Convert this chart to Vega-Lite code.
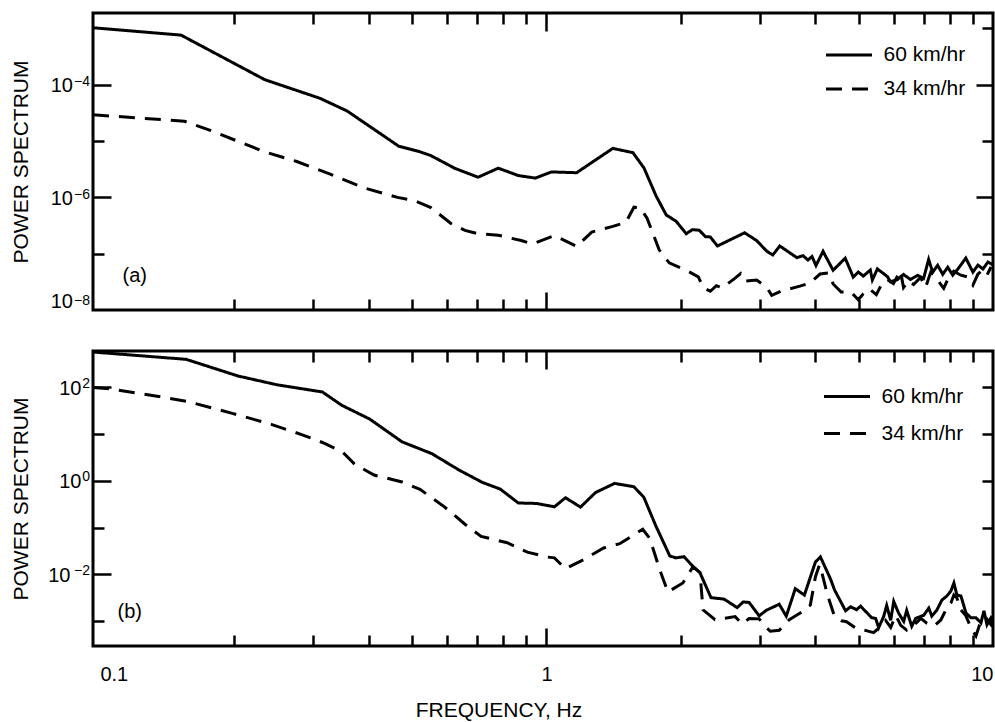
{
  "$schema": "https://vega.github.io/schema/vega-lite/v6.json",
  "padding": {"left": 9, "top": 10, "right": 0, "bottom": 0},
  "background": "white",
  "spacing": 34,
  "datasets": {
    "a": [
      {"f":0.0965,"p":1.03e-3,"s":"60 km/hr"},{"f":0.152,"p":7.6e-4,"s":"60 km/hr"},{"f":0.234,"p":1.23e-4,"s":"60 km/hr"},{"f":0.311,"p":5.75e-5,"s":"60 km/hr"},{"f":0.358,"p":3.41e-5,"s":"60 km/hr"},{"f":0.467,"p":8.09e-6,"s":"60 km/hr"},{"f":0.520,"p":6.49e-6,"s":"60 km/hr"},{"f":0.551,"p":5.52e-6,"s":"60 km/hr"},{"f":0.624,"p":3.27e-6,"s":"60 km/hr"},{"f":0.703,"p":2.28e-6,"s":"60 km/hr"},{"f":0.780,"p":3.30e-6,"s":"60 km/hr"},{"f":0.865,"p":2.44e-6,"s":"60 km/hr"},{"f":0.944,"p":2.20e-6,"s":"60 km/hr"},{"f":1.026,"p":2.83e-6,"s":"60 km/hr"},{"f":1.168,"p":2.74e-6,"s":"60 km/hr"},{"f":1.408,"p":7.41e-6,"s":"60 km/hr"},{"f":1.562,"p":6.22e-6,"s":"60 km/hr"},{"f":1.654,"p":3.31e-6,"s":"60 km/hr"},{"f":1.760,"p":1.06e-6,"s":"60 km/hr"},{"f":1.854,"p":4.89e-7,"s":"60 km/hr"},{"f":1.952,"p":3.76e-7,"s":"60 km/hr"},{"f":2.056,"p":2.26e-7,"s":"60 km/hr"},{"f":2.122,"p":2.67e-7,"s":"60 km/hr"},{"f":2.199,"p":2.61e-7,"s":"60 km/hr"},{"f":2.269,"p":2.01e-7,"s":"60 km/hr"},{"f":2.328,"p":1.98e-7,"s":"60 km/hr"},{"f":2.415,"p":1.37e-7,"s":"60 km/hr"},{"f":2.778,"p":2.35e-7,"s":"60 km/hr"},{"f":2.956,"p":1.71e-7,"s":"60 km/hr"},{"f":3.113,"p":1.11e-7,"s":"60 km/hr"},{"f":3.212,"p":9.49e-8,"s":"60 km/hr"},{"f":3.331,"p":1.37e-7,"s":"60 km/hr"},{"f":3.638,"p":8.49e-8,"s":"60 km/hr"},{"f":3.753,"p":9.25e-8,"s":"60 km/hr"},{"f":3.851,"p":7.72e-8,"s":"60 km/hr"},{"f":3.932,"p":8.91e-8,"s":"60 km/hr"},{"f":4.014,"p":6.17e-8,"s":"60 km/hr"},{"f":4.163,"p":1.10e-7,"s":"60 km/hr"},{"f":4.385,"p":5.07e-8,"s":"60 km/hr"},{"f":4.667,"p":8.32e-8,"s":"60 km/hr"},{"f":4.864,"p":3.84e-8,"s":"60 km/hr"},{"f":4.992,"p":4.71e-8,"s":"60 km/hr"},{"f":5.123,"p":4.00e-8,"s":"60 km/hr"},{"f":5.312,"p":5.13e-8,"s":"60 km/hr"},{"f":5.368,"p":3.41e-8,"s":"60 km/hr"},{"f":5.509,"p":5.37e-8,"s":"60 km/hr"},{"f":5.801,"p":3.92e-8,"s":"60 km/hr"},{"f":5.892,"p":3.19e-8,"s":"60 km/hr"},{"f":6.110,"p":3.47e-8,"s":"60 km/hr"},{"f":6.304,"p":4.27e-8,"s":"60 km/hr"},{"f":6.537,"p":3.48e-8,"s":"60 km/hr"},{"f":6.778,"p":4.12e-8,"s":"60 km/hr"},{"f":6.992,"p":3.64e-8,"s":"60 km/hr"},{"f":7.176,"p":7.92e-8,"s":"60 km/hr"},{"f":7.326,"p":4.68e-8,"s":"60 km/hr"},{"f":7.518,"p":6.22e-8,"s":"60 km/hr"},{"f":7.716,"p":4.30e-8,"s":"60 km/hr"},{"f":7.918,"p":5.75e-8,"s":"60 km/hr"},{"f":8.126,"p":4.15e-8,"s":"60 km/hr"},{"f":8.340,"p":5.31e-8,"s":"60 km/hr"},{"f":8.693,"p":8.35e-8,"s":"60 km/hr"},{"f":9.016,"p":4.71e-8,"s":"60 km/hr"},{"f":9.253,"p":6.27e-8,"s":"60 km/hr"},{"f":9.495,"p":5.35e-8,"s":"60 km/hr"},{"f":9.744,"p":7.12e-8,"s":"60 km/hr"},{"f":10.0,"p":6.29e-8,"s":"60 km/hr"},
      {"f":0.0965,"p":2.93e-5,"s":"34 km/hr"},{"f":0.1546,"p":2.25e-5,"s":"34 km/hr"},{"f":0.176,"p":1.57e-5,"s":"34 km/hr"},{"f":0.233,"p":6.50e-6,"s":"34 km/hr"},{"f":0.276,"p":4.34e-6,"s":"34 km/hr"},{"f":0.328,"p":2.58e-6,"s":"34 km/hr"},{"f":0.391,"p":1.47e-6,"s":"34 km/hr"},{"f":0.464,"p":1.00e-6,"s":"34 km/hr"},{"f":0.507,"p":8.74e-7,"s":"34 km/hr"},{"f":0.551,"p":6.59e-7,"s":"34 km/hr"},{"f":0.611,"p":3.44e-7,"s":"34 km/hr"},{"f":0.657,"p":2.59e-7,"s":"34 km/hr"},{"f":0.696,"p":2.30e-7,"s":"34 km/hr"},{"f":0.780,"p":2.13e-7,"s":"34 km/hr"},{"f":0.878,"p":1.71e-7,"s":"34 km/hr"},{"f":0.930,"p":1.49e-7,"s":"34 km/hr"},{"f":1.042,"p":2.09e-7,"s":"34 km/hr"},{"f":1.168,"p":1.35e-7,"s":"34 km/hr"},{"f":1.263,"p":2.42e-7,"s":"34 km/hr"},{"f":1.408,"p":3.05e-7,"s":"34 km/hr"},{"f":1.506,"p":3.61e-7,"s":"34 km/hr"},{"f":1.570,"p":6.70e-7,"s":"34 km/hr"},{"f":1.620,"p":6.56e-7,"s":"34 km/hr"},{"f":1.680,"p":4.28e-7,"s":"34 km/hr"},{"f":1.788,"p":1.17e-7,"s":"34 km/hr"},{"f":1.883,"p":6.89e-8,"s":"34 km/hr"},{"f":2.088,"p":4.75e-8,"s":"34 km/hr"},{"f":2.188,"p":3.87e-8,"s":"34 km/hr"},{"f":2.246,"p":2.48e-8,"s":"34 km/hr"},{"f":2.328,"p":2.15e-8,"s":"34 km/hr"},{"f":2.402,"p":2.70e-8,"s":"34 km/hr"},{"f":2.478,"p":2.49e-8,"s":"34 km/hr"},{"f":2.637,"p":3.61e-8,"s":"34 km/hr"},{"f":2.721,"p":4.43e-8,"s":"34 km/hr"},{"f":2.778,"p":3.26e-8,"s":"34 km/hr"},{"f":2.956,"p":3.41e-8,"s":"34 km/hr"},{"f":3.113,"p":2.52e-8,"s":"34 km/hr"},{"f":3.195,"p":1.82e-8,"s":"34 km/hr"},{"f":3.348,"p":2.15e-8,"s":"34 km/hr"},{"f":3.472,"p":2.33e-8,"s":"34 km/hr"},{"f":3.694,"p":2.65e-8,"s":"34 km/hr"},{"f":3.891,"p":3.01e-8,"s":"34 km/hr"},{"f":4.099,"p":4.35e-8,"s":"34 km/hr"},{"f":4.272,"p":4.54e-8,"s":"34 km/hr"},{"f":4.385,"p":2.90e-8,"s":"34 km/hr"},{"f":4.570,"p":2.09e-8,"s":"34 km/hr"},{"f":4.813,"p":2.06e-8,"s":"34 km/hr"},{"f":4.992,"p":1.52e-8,"s":"34 km/hr"},{"f":5.123,"p":1.94e-8,"s":"34 km/hr"},{"f":5.284,"p":2.38e-8,"s":"34 km/hr"},{"f":5.479,"p":1.87e-8,"s":"34 km/hr"},{"f":5.623,"p":2.81e-8,"s":"34 km/hr"},{"f":5.801,"p":3.47e-8,"s":"34 km/hr"},{"f":5.984,"p":2.94e-8,"s":"34 km/hr"},{"f":6.205,"p":5.01e-8,"s":"34 km/hr"},{"f":6.304,"p":2.51e-8,"s":"34 km/hr"},{"f":6.469,"p":3.34e-8,"s":"34 km/hr"},{"f":6.639,"p":2.84e-8,"s":"34 km/hr"},{"f":6.883,"p":3.79e-8,"s":"34 km/hr"},{"f":7.064,"p":2.52e-8,"s":"34 km/hr"},{"f":7.250,"p":4.66e-8,"s":"34 km/hr"},{"f":7.518,"p":3.37e-8,"s":"34 km/hr"},{"f":7.756,"p":2.43e-8,"s":"34 km/hr"},{"f":7.960,"p":3.82e-8,"s":"34 km/hr"},{"f":8.168,"p":4.89e-8,"s":"34 km/hr"},{"f":8.472,"p":4.15e-8,"s":"34 km/hr"},{"f":8.784,"p":3.84e-8,"s":"34 km/hr"},{"f":9.016,"p":2.77e-8,"s":"34 km/hr"},{"f":9.253,"p":4.35e-8,"s":"34 km/hr"},{"f":9.495,"p":5.13e-8,"s":"34 km/hr"},{"f":9.694,"p":4.18e-8,"s":"34 km/hr"},{"f":9.897,"p":5.81e-8,"s":"34 km/hr"}
    ],
    "b": [
      {"f":0.0965,"p":560,"s":"60 km/hr"},{"f":0.156,"p":391,"s":"60 km/hr"},{"f":0.204,"p":172,"s":"60 km/hr"},{"f":0.249,"p":112,"s":"60 km/hr"},{"f":0.315,"p":78.5,"s":"60 km/hr"},{"f":0.348,"p":40.8,"s":"60 km/hr"},{"f":0.402,"p":20.7,"s":"60 km/hr"},{"f":0.475,"p":6.75,"s":"60 km/hr"},{"f":0.554,"p":3.78,"s":"60 km/hr"},{"f":0.637,"p":1.69,"s":"60 km/hr"},{"f":0.718,"p":0.924,"s":"60 km/hr"},{"f":0.788,"p":0.662,"s":"60 km/hr"},{"f":0.865,"p":0.334,"s":"60 km/hr"},{"f":0.950,"p":0.327,"s":"60 km/hr"},{"f":1.042,"p":0.277,"s":"60 km/hr"},{"f":1.103,"p":0.433,"s":"60 km/hr"},{"f":1.192,"p":0.273,"s":"60 km/hr"},{"f":1.288,"p":0.560,"s":"60 km/hr"},{"f":1.421,"p":0.875,"s":"60 km/hr"},{"f":1.569,"p":0.745,"s":"60 km/hr"},{"f":1.652,"p":0.444,"s":"60 km/hr"},{"f":1.758,"p":0.108,"s":"60 km/hr"},{"f":1.889,"p":0.0247,"s":"60 km/hr"},{"f":1.950,"p":0.0225,"s":"60 km/hr"},{"f":2.032,"p":0.0238,"s":"60 km/hr"},{"f":2.129,"p":0.0148,"s":"60 km/hr"},{"f":2.207,"p":0.0108,"s":"60 km/hr"},{"f":2.336,"p":3.18e-3,"s":"60 km/hr"},{"f":2.499,"p":2.96e-3,"s":"60 km/hr"},{"f":2.673,"p":1.95e-3,"s":"60 km/hr"},{"f":2.757,"p":2.57e-3,"s":"60 km/hr"},{"f":2.844,"p":2.51e-3,"s":"60 km/hr"},{"f":2.995,"p":1.30e-3,"s":"60 km/hr"},{"f":3.105,"p":1.70e-3,"s":"60 km/hr"},{"f":3.321,"p":2.30e-3,"s":"60 km/hr"},{"f":3.444,"p":1.28e-3,"s":"60 km/hr"},{"f":3.608,"p":4.94e-3,"s":"60 km/hr"},{"f":3.781,"p":3.61e-3,"s":"60 km/hr"},{"f":4.002,"p":0.0183,"s":"60 km/hr"},{"f":4.107,"p":0.0236,"s":"60 km/hr"},{"f":4.325,"p":8.02e-3,"s":"60 km/hr"},{"f":4.416,"p":4.67e-3,"s":"60 km/hr"},{"f":4.675,"p":1.67e-3,"s":"60 km/hr"},{"f":4.797,"p":2.03e-3,"s":"60 km/hr"},{"f":4.949,"p":1.76e-3,"s":"60 km/hr"},{"f":5.052,"p":2.09e-3,"s":"60 km/hr"},{"f":5.348,"p":1.19e-3,"s":"60 km/hr"},{"f":5.460,"p":1.14e-3,"s":"60 km/hr"},{"f":5.546,"p":7.30e-4,"s":"60 km/hr"},{"f":5.691,"p":1.26e-3,"s":"60 km/hr"},{"f":5.780,"p":2.16e-3,"s":"60 km/hr"},{"f":5.901,"p":1.04e-3,"s":"60 km/hr"},{"f":5.993,"p":2.64e-3,"s":"60 km/hr"},{"f":6.150,"p":1.47e-3,"s":"60 km/hr"},{"f":6.310,"p":9.91e-4,"s":"60 km/hr"},{"f":6.408,"p":1.70e-3,"s":"60 km/hr"},{"f":6.577,"p":7.78e-4,"s":"60 km/hr"},{"f":6.714,"p":1.15e-3,"s":"60 km/hr"},{"f":6.998,"p":1.34e-3,"s":"60 km/hr"},{"f":7.182,"p":1.90e-3,"s":"60 km/hr"},{"f":7.294,"p":1.28e-3,"s":"60 km/hr"},{"f":7.485,"p":1.72e-3,"s":"60 km/hr"},{"f":7.682,"p":2.82e-3,"s":"60 km/hr"},{"f":7.883,"p":3.44e-3,"s":"60 km/hr"},{"f":8.048,"p":4.40e-3,"s":"60 km/hr"},{"f":8.174,"p":6.55e-3,"s":"60 km/hr"},{"f":8.302,"p":3.63e-3,"s":"60 km/hr"},{"f":8.476,"p":3.45e-3,"s":"60 km/hr"},{"f":8.698,"p":1.50e-3,"s":"60 km/hr"},{"f":8.925,"p":1.18e-3,"s":"60 km/hr"},{"f":9.158,"p":1.18e-3,"s":"60 km/hr"},{"f":9.397,"p":9.25e-4,"s":"60 km/hr"},{"f":9.545,"p":1.67e-3,"s":"60 km/hr"},{"f":9.694,"p":8.38e-4,"s":"60 km/hr"},{"f":9.897,"p":1.18e-3,"s":"60 km/hr"},{"f":10.0,"p":1.03e-3,"s":"60 km/hr"},
      {"f":0.0965,"p":97.5,"s":"34 km/hr"},{"f":0.1059,"p":91,"s":"34 km/hr"},{"f":0.130,"p":67,"s":"34 km/hr"},{"f":0.157,"p":49.4,"s":"34 km/hr"},{"f":0.197,"p":27.8,"s":"34 km/hr"},{"f":0.242,"p":16.0,"s":"34 km/hr"},{"f":0.283,"p":9.66,"s":"34 km/hr"},{"f":0.315,"p":6.55,"s":"34 km/hr"},{"f":0.350,"p":4.05,"s":"34 km/hr"},{"f":0.372,"p":2.25,"s":"34 km/hr"},{"f":0.411,"p":1.32,"s":"34 km/hr"},{"f":0.475,"p":0.942,"s":"34 km/hr"},{"f":0.521,"p":0.654,"s":"34 km/hr"},{"f":0.590,"p":0.280,"s":"34 km/hr"},{"f":0.658,"p":0.116,"s":"34 km/hr"},{"f":0.714,"p":0.0648,"s":"34 km/hr"},{"f":0.817,"p":0.0473,"s":"34 km/hr"},{"f":0.906,"p":0.0298,"s":"34 km/hr"},{"f":1.005,"p":0.0234,"s":"34 km/hr"},{"f":1.042,"p":0.0225,"s":"34 km/hr"},{"f":1.103,"p":0.0132,"s":"34 km/hr"},{"f":1.211,"p":0.0206,"s":"34 km/hr"},{"f":1.343,"p":0.0366,"s":"34 km/hr"},{"f":1.459,"p":0.0451,"s":"34 km/hr"},{"f":1.643,"p":0.0920,"s":"34 km/hr"},{"f":1.704,"p":0.0580,"s":"34 km/hr"},{"f":1.794,"p":0.0124,"s":"34 km/hr"},{"f":1.870,"p":4.21e-3,"s":"34 km/hr"},{"f":2.021,"p":6.55e-3,"s":"34 km/hr"},{"f":2.129,"p":0.0145,"s":"34 km/hr"},{"f":2.207,"p":0.0110,"s":"34 km/hr"},{"f":2.242,"p":1.75e-3,"s":"34 km/hr"},{"f":2.385,"p":1.08e-3,"s":"34 km/hr"},{"f":2.512,"p":1.16e-3,"s":"34 km/hr"},{"f":2.646,"p":1.25e-3,"s":"34 km/hr"},{"f":2.743,"p":8.67e-4,"s":"34 km/hr"},{"f":2.844,"p":1.14e-3,"s":"34 km/hr"},{"f":2.995,"p":1.12e-3,"s":"34 km/hr"},{"f":3.090,"p":7.74e-4,"s":"34 km/hr"},{"f":3.171,"p":6.08e-4,"s":"34 km/hr"},{"f":3.321,"p":6.39e-4,"s":"34 km/hr"},{"f":3.498,"p":1.08e-3,"s":"34 km/hr"},{"f":3.761,"p":1.64e-3,"s":"34 km/hr"},{"f":3.899,"p":2.21e-3,"s":"34 km/hr"},{"f":4.002,"p":8.79e-3,"s":"34 km/hr"},{"f":4.086,"p":0.0159,"s":"34 km/hr"},{"f":4.128,"p":0.0118,"s":"34 km/hr"},{"f":4.258,"p":3.65e-3,"s":"34 km/hr"},{"f":4.416,"p":1.27e-3,"s":"34 km/hr"},{"f":4.578,"p":1.02e-3,"s":"34 km/hr"},{"f":4.698,"p":9.71e-4,"s":"34 km/hr"},{"f":4.949,"p":6.91e-4,"s":"34 km/hr"},{"f":5.105,"p":6.58e-4,"s":"34 km/hr"},{"f":5.403,"p":5.70e-4,"s":"34 km/hr"},{"f":5.602,"p":7.67e-4,"s":"34 km/hr"},{"f":5.749,"p":1.04e-3,"s":"34 km/hr"},{"f":5.901,"p":7.33e-4,"s":"34 km/hr"},{"f":6.054,"p":1.33e-3,"s":"34 km/hr"},{"f":6.215,"p":8.13e-4,"s":"34 km/hr"},{"f":6.408,"p":6.45e-4,"s":"34 km/hr"},{"f":6.645,"p":8.17e-4,"s":"34 km/hr"},{"f":6.890,"p":1.15e-3,"s":"34 km/hr"},{"f":7.107,"p":9.06e-4,"s":"34 km/hr"},{"f":7.370,"p":7.82e-4,"s":"34 km/hr"},{"f":7.641,"p":1.06e-3,"s":"34 km/hr"},{"f":7.883,"p":1.91e-3,"s":"34 km/hr"},{"f":8.048,"p":2.44e-3,"s":"34 km/hr"},{"f":8.174,"p":3.63e-3,"s":"34 km/hr"},{"f":8.302,"p":3.13e-3,"s":"34 km/hr"},{"f":8.476,"p":1.73e-3,"s":"34 km/hr"},{"f":8.698,"p":1.30e-3,"s":"34 km/hr"},{"f":8.925,"p":7.19e-4,"s":"34 km/hr"},{"f":9.158,"p":4.85e-4,"s":"34 km/hr"},{"f":9.397,"p":1.02e-3,"s":"34 km/hr"},{"f":9.645,"p":1.18e-3,"s":"34 km/hr"},{"f":9.897,"p":8.38e-4,"s":"34 km/hr"},{"f":10.0,"p":1.07e-3,"s":"34 km/hr"}
    ]
  },
  "vconcat": [
    {
      "width": 900,
      "height": 297,
      "data": {"name": "a"},
      "layer": [
        {
          "mark": {"type": "line", "color": "black", "strokeWidth": 3, "strokeCap": "butt", "clip": true},
          "encoding": {
            "x": {"field": "f", "type": "quantitative", "scale": {"type": "log", "domain": [0.0965, 10], "nice": false}, "axis": null},
            "y": {"field": "p", "type": "quantitative", "scale": {"type": "log", "domain": [1e-8, 1.88e-3], "nice": false},
                  "axis": {"orient": "left", "values": [1e-8, 1e-6, 1e-4], "ticks": false, "labelPadding": 20.5, "labelFlush": 6, "labelOffset": 1,
                           "labelExpr": "'10'",
                           "title": "POWER SPECTRUM", "titleX": -71.5, "titleY": 148.5, "titleAngle": 270, "titleAlign": "center", "titleBaseline": "middle"}},
            "strokeDash": {"field": "s", "type": "nominal",
                           "scale": {"domain": ["60 km/hr", "34 km/hr"], "range": [[1, 0], [16, 10]]},
                           "legend": {"orient": "none", "legendX": 743, "legendY": 29, "title": null, "rowPadding": 11}}
          }
        },
        {
          "mark": {"type": "point", "opacity": 0},
          "encoding": {
            "x": {"field": "f", "type": "quantitative", "axis": {"orient": "bottom", "values": [0.2,0.3,0.4,0.5,0.6,0.7,0.8,0.9,2,3,4,5,6,7,8,9], "tickSize": -11, "labels": false, "title": null}},
            "y": {"field": "p", "type": "quantitative", "axis": {"orient": "left", "values": [1e-7, 1e-5], "tickSize": -11, "labels": false, "title": null}}
          }
        },
        {
          "mark": {"type": "point", "opacity": 0},
          "encoding": {
            "x": {"field": "f", "type": "quantitative", "axis": {"orient": "bottom", "values": [1], "tickSize": -18, "labels": false, "title": null}},
            "y": {"field": "p", "type": "quantitative", "axis": {"orient": "left", "values": [1e-6, 1e-4], "tickSize": -18, "labels": false, "title": null}}
          }
        },
        {
          "mark": {"type": "point", "opacity": 0},
          "encoding": {
            "x": {"field": "f", "type": "quantitative", "axis": {"orient": "top", "values": [0.2,0.3,0.4,0.5,0.6,0.7,0.8,0.9,2,3,4,5,6,7,8,9], "tickSize": -11, "labels": false, "title": null}},
            "y": {"field": "p", "type": "quantitative", "axis": {"orient": "right", "values": [1e-7, 1e-5, 1e-3], "tickSize": -11, "labels": false, "title": null}}
          }
        },
        {
          "mark": {"type": "point", "opacity": 0},
          "encoding": {
            "x": {"field": "f", "type": "quantitative", "axis": {"orient": "top", "values": [1], "tickSize": -18, "labels": false, "title": null}},
            "y": {"field": "p", "type": "quantitative", "axis": {"orient": "right", "values": [1e-6, 1e-4], "tickSize": -17, "labels": false, "title": null}}
          }
        },
        {
          "mark": {"type": "point", "opacity": 0},
          "encoding": {
            "x": {"field": "f", "type": "quantitative", "axis": null},
            "y": {"field": "p", "type": "quantitative", "axis": {"orient": "left", "values": [1e-8, 1e-6, 1e-4], "ticks": false, "labelPadding": 3.5, "labelFlush": 6, "labelOffset": -3, "labelFontSize": 14,
                  "labelExpr": "datum.value < 1e-7 ? '−8' : datum.value < 1e-5 ? '−6' : '−4'", "title": null}}
          }
        },
        {
          "data": {"values": [{"t": "(a)"}]},
          "mark": {"type": "text", "align": "left", "baseline": "middle", "fontSize": 20, "font": "Liberation Sans", "color": "black"},
          "encoding": {
            "x": {"datum": 0.1124, "type": "quantitative", "axis": null},
            "y": {"datum": 3.94e-8, "type": "quantitative", "axis": null},
            "text": {"field": "t"}
          }
        }
      ],
      "resolve": {"axis": {"x": "independent", "y": "independent"}}
    },
    {
      "width": 900,
      "height": 295,
      "data": {"name": "b"},
      "layer": [
        {
          "mark": {"type": "line", "color": "black", "strokeWidth": 3, "strokeCap": "butt", "clip": true},
          "encoding": {
            "x": {"field": "f", "type": "quantitative", "scale": {"type": "log", "domain": [0.0965, 10], "nice": false},
                  "axis": {"orient": "bottom", "values": [0.1, 1, 10], "ticks": false, "labelPadding": 18, "labelFlush": 12,
                           "labelExpr": "datum.value < 0.5 ? '0.1' : datum.value < 5 ? '1' : '10'",
                           "title": "FREQUENCY, Hz", "titleX": 405.5, "titleY": 70, "titleAlign": "center", "titleBaseline": "alphabetic"}},
            "y": {"field": "p", "type": "quantitative", "scale": {"type": "log", "domain": [2.95e-4, 589], "nice": false},
                  "axis": {"orient": "left", "values": [1, 100], "ticks": false, "labelPadding": 12, "labelOffset": 1,
                           "labelExpr": "'10'",
                           "title": "POWER SPECTRUM", "titleX": -71.5, "titleY": 147.5, "titleAngle": 270, "titleAlign": "center", "titleBaseline": "middle"}},
            "strokeDash": {"field": "s", "type": "nominal",
                           "scale": {"domain": ["60 km/hr", "34 km/hr"], "range": [[1, 0], [16, 10]]},
                           "legend": {"orient": "none", "legendX": 741, "legendY": 32.5, "title": null, "rowPadding": 14}}
          }
        },
        {
          "mark": {"type": "point", "opacity": 0},
          "encoding": {
            "x": {"field": "f", "type": "quantitative", "axis": {"orient": "bottom", "values": [0.2,0.3,0.4,0.5,0.6,0.7,0.8,0.9,2,3,4,5,6,7,8,9], "tickSize": -11, "labels": false, "title": null}},
            "y": {"field": "p", "type": "quantitative", "axis": {"orient": "left", "values": [0.001, 0.1, 10], "tickSize": -11, "labels": false, "title": null}}
          }
        },
        {
          "mark": {"type": "point", "opacity": 0},
          "encoding": {
            "x": {"field": "f", "type": "quantitative", "axis": {"orient": "bottom", "values": [1], "tickSize": -18, "labels": false, "title": null}},
            "y": {"field": "p", "type": "quantitative", "axis": {"orient": "left", "values": [0.01, 1, 100], "tickSize": -18, "labels": false, "title": null}}
          }
        },
        {
          "mark": {"type": "point", "opacity": 0},
          "encoding": {
            "x": {"field": "f", "type": "quantitative", "axis": {"orient": "top", "values": [0.2,0.3,0.4,0.5,0.6,0.7,0.8,0.9,2,3,4,5,6,7,8,9], "tickSize": -11, "labels": false, "title": null}},
            "y": {"field": "p", "type": "quantitative", "axis": {"orient": "right", "values": [0.01, 0.1, 1, 10, 100], "tickSize": -11, "labels": false, "title": null}}
          }
        },
        {
          "mark": {"type": "point", "opacity": 0},
          "encoding": {
            "x": {"field": "f", "type": "quantitative", "axis": {"orient": "top", "values": [1], "tickSize": -18, "labels": false, "title": null}},
            "y": {"field": "p", "type": "quantitative", "axis": {"orient": "left", "values": [0.01], "ticks": false, "labelPadding": 23, "labelOffset": 1, "labelExpr": "'10'", "title": null}}
          }
        },
        {
          "mark": {"type": "point", "opacity": 0},
          "encoding": {
            "x": {"field": "f", "type": "quantitative", "axis": null},
            "y": {"field": "p", "type": "quantitative", "axis": {"orient": "left", "values": [0.01, 1, 100], "ticks": false, "labelPadding": 3.5, "labelOffset": -4, "labelFontSize": 14,
                  "labelExpr": "datum.value < 0.1 ? '−2' : datum.value < 10 ? '0' : '2'", "title": null}}
          }
        },
        {
          "data": {"values": [{"t": "(b)"}]},
          "mark": {"type": "text", "align": "left", "baseline": "middle", "fontSize": 20, "font": "Liberation Sans", "color": "black"},
          "encoding": {
            "x": {"datum": 0.1095, "type": "quantitative", "axis": null},
            "y": {"datum": 1.57e-3, "type": "quantitative", "axis": null},
            "text": {"field": "t"}
          }
        }
      ],
      "resolve": {"axis": {"x": "independent", "y": "independent"}}
    }
  ],
  "resolve": {
    "scale": {"x": "independent", "y": "independent", "strokeDash": "independent"},
    "legend": {"strokeDash": "independent"}
  },
  "config": {
    "view": {"stroke": "black", "strokeWidth": 3},
    "axis": {"domain": false, "grid": false, "tickColor": "black", "tickWidth": 2.5,
             "labelFont": "Liberation Sans", "labelFontSize": 20, "labelColor": "black",
             "titleFont": "Liberation Sans", "titleFontSize": 21, "titleFontWeight": "normal", "titleColor": "black"},
    "legend": {"symbolType": "M-2,0H2", "symbolSize": 529, "symbolStrokeWidth": 3, "symbolStrokeColor": "black", "symbolFillColor": "transparent",
               "labelFont": "Liberation Sans", "labelFontSize": 21, "labelColor": "black", "labelOffset": 21.5, "padding": 0},
    "text": {"font": "Liberation Sans"}
  }
}
